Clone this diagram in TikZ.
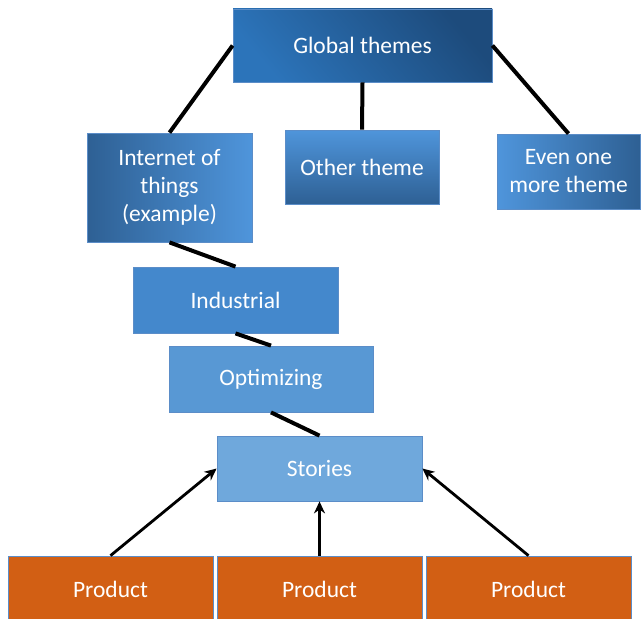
\documentclass[tikz,border=0pt]{standalone}
\usepackage{fontspec}
\setmainfont{Carlito}
\usetikzlibrary{arrows.meta}
\definecolor{bordc}{HTML}{5B8DC8}
\definecolor{indc}{HTML}{4488CC}
\definecolor{optc}{HTML}{5898D4}
\definecolor{storc}{HTML}{6FA8DC}
\definecolor{prodc}{HTML}{D25F14}
\definecolor{darkb}{HTML}{1D4B7C}
\definecolor{midb}{HTML}{2C74BA}
\definecolor{deepb}{HTML}{2E6094}
\definecolor{lightb}{HTML}{4F95DB}
\tikzset{
  box/.style={draw=bordc, line width=0.8pt, inner sep=0pt, align=center,
    text=white, font=\fontsize{23.5pt}{28pt}\selectfont},
  conn/.style={line width=4pt, black},
  arr/.style={line width=2.8pt, black, -{Stealth[length=12pt,width=11pt]}}
}
\begin{document}
\begin{tikzpicture}[x=1pt,y=-1pt]
\useasboundingbox (0,0) rectangle (644,618);
\clip (0,0) rectangle (644,618);
\node[box, minimum width=259pt, minimum height=73pt,
  top color=darkb, bottom color=midb, shading angle=-50] (glob) at (362.5,45.5) {Global themes};
\node[box, minimum width=165pt, minimum height=109pt,
  left color=deepb, right color=lightb] (iot) at (169.5,187.5) {Internet of\\things\\(example)};
\node[box, minimum width=154pt, minimum height=74pt,
  top color=lightb, bottom color=deepb] (other) at (362,167) {Other theme};
\node[box, minimum width=143pt, minimum height=75pt,
  left color=lightb, right color=deepb] (even) at (568.5,171.5) {Even one\\more theme};
\node[box, fill=indc, minimum width=205pt, minimum height=66pt] (ind) at (235.5,300) {Industrial};
\node[box, fill=optc, minimum width=204pt, minimum height=66pt] (opt) at (271,379) {Optimizing};
\node[box, fill=storc, minimum width=205pt, minimum height=65pt] (stor) at (319.5,468.5) {Stories};
\node[box, fill=prodc, minimum width=205pt, minimum height=66pt] (p1) at (110.5,589) {Product};
\node[box, fill=prodc, minimum width=205pt, minimum height=66pt] (p2) at (319.5,589) {Product};
\node[box, fill=prodc, minimum width=205pt, minimum height=66pt] (p3) at (528.5,589) {Product};
\draw[conn] (glob.west) -- (iot.north);
\draw[conn] (glob.south) -- (other.north);
\draw[conn] (glob.east) -- (even.north);
\draw[conn] (iot.south) -- (ind.north);
\draw[conn] (ind.south) -- (opt.north);
\draw[conn] (opt.south) -- (stor.north);
\draw[arr] (p1.north) -- (stor.west);
\draw[arr] (p2.north) -- (stor.south);
\draw[arr] (p3.north) -- (stor.east);
\end{tikzpicture}
\end{document}
